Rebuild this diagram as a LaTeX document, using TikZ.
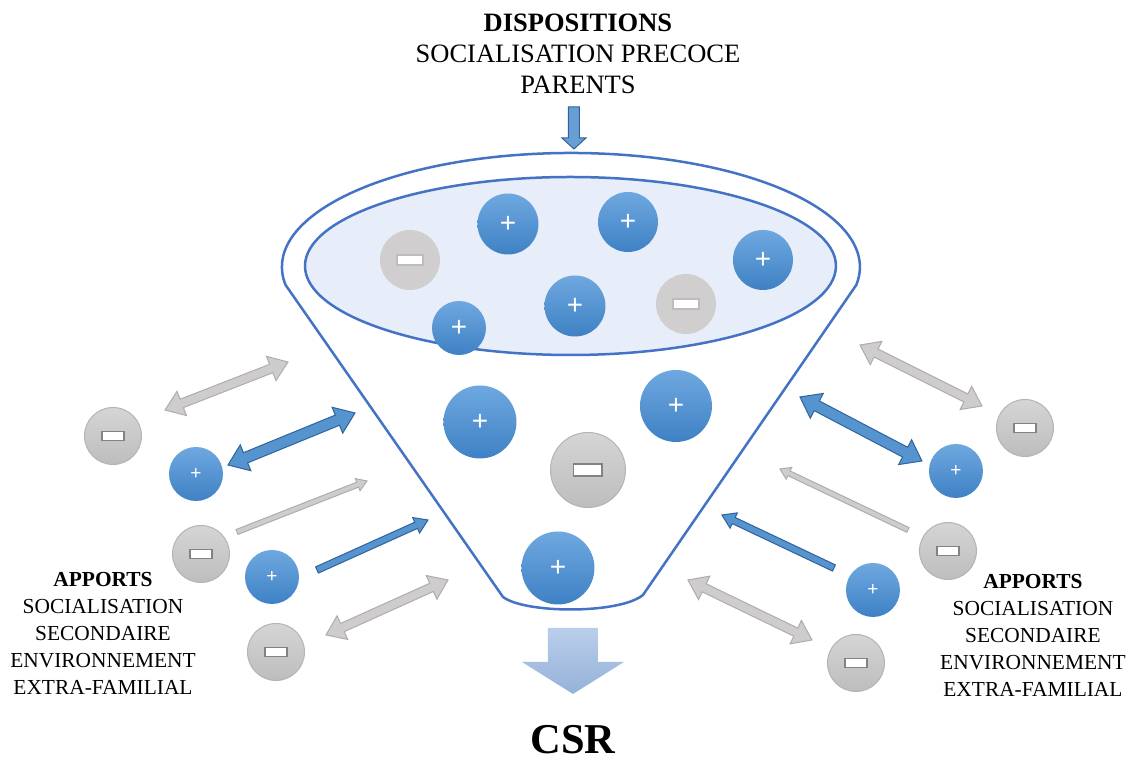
\documentclass[tikz,border=0pt]{standalone}
\usepackage{fontspec}
\setmainfont{Liberation Serif}
\newfontfamily\ballfont{Liberation Sans}
\usepackage{xcolor}
\usepackage{tikz}
\usetikzlibrary{calc}

\definecolor{funnelblue}{RGB}{68,114,196}
\definecolor{bowlfill}{RGB}{231,238,249}
\definecolor{plushi}{RGB}{111,168,224}
\definecolor{pluslo}{RGB}{62,129,196}
\definecolor{minushi}{RGB}{213,213,213}
\definecolor{minuslo}{RGB}{189,189,189}
\definecolor{minusedge}{RGB}{180,180,180}
\definecolor{minusflat}{RGB}{208,206,206}
\definecolor{bargrey}{RGB}{130,130,130}
\definecolor{greyfill}{RGB}{206,204,204}
\definecolor{greyedge}{RGB}{176,172,172}
\definecolor{bluefill}{RGB}{86,148,208}
\definecolor{blueedge}{RGB}{48,98,155}
\definecolor{csrhi}{RGB}{186,206,236}
\definecolor{csrlo}{RGB}{148,178,216}

\newcommand{\bigsign}{\ballfont\fontsize{28}{28}\selectfont}
\newcommand{\smallsign}{\ballfont\fontsize{19}{19}\selectfont}

% block arrows: style, tail, tip, half shaft, half head, head length
\newcommand{\sglarrow}[6]{%
  \coordinate (hb) at ($(#3)!#6!(#2)$);
  \draw[#1] ($(#2)!#4!90:(#3)$) -- ($(hb)!#4!-90:(#2)$) -- ($(hb)!#5!-90:(#2)$) -- (#3)
    -- ($(hb)!#5!90:(#2)$) -- ($(hb)!#4!90:(#2)$) -- ($(#2)!#4!-90:(#3)$) -- cycle;
}
\newcommand{\dblarrow}[6]{%
  \coordinate (ha) at ($(#2)!#6!(#3)$);
  \coordinate (hb) at ($(#3)!#6!(#2)$);
  \draw[#1] (#2) -- ($(ha)!#5!90:(#3)$) -- ($(ha)!#4!90:(#3)$) -- ($(hb)!#4!-90:(#2)$)
    -- ($(hb)!#5!-90:(#2)$) -- (#3) -- ($(hb)!#5!90:(#2)$) -- ($(hb)!#4!90:(#2)$)
    -- ($(ha)!#4!-90:(#3)$) -- ($(ha)!#5!-90:(#3)$) -- cycle;
}

\tikzset{
  ball/.style={circle,inner sep=0pt,minimum size=#1,text=white},
  plusball/.style={ball=#1,top color=plushi,bottom color=pluslo},
  minusbar/.style={draw=bargrey,fill=white,line width=1.5pt},
  minusball/.style={ball=#1,top color=minushi,bottom color=minuslo,draw=minusedge,line width=1pt,
    path picture={\draw[minusbar] ($(path picture bounding box.center)+(-0.19*#1,-0.08*#1)$)
      rectangle ($(path picture bounding box.center)+(0.19*#1,0.08*#1)$);}},
  flatminus/.style={ball=#1,fill=minusflat,
    path picture={\draw[minusbar,draw=minuslo,line width=2pt] ($(path picture bounding box.center)+(-0.22*#1,-0.085*#1)$)
      rectangle ($(path picture bounding box.center)+(0.22*#1,0.085*#1)$);}},
  funnel/.style={draw=funnelblue,line width=2.5pt},
  greyarrow/.style={fill=greyfill,draw=greyedge,line width=1pt},
  bluearrow/.style={fill=bluefill,draw=blueedge,line width=1pt},
  csrarrow/.style={top color=csrhi,bottom color=csrlo,draw=none},
  toptext/.style={align=center,font=\fontsize{26.5}{31}\selectfont},
  sidetext/.style={align=center,font=\fontsize{21.4}{27}\selectfont},
}

\begin{document}
\begin{tikzpicture}[x=1pt,y=-1pt]
  \path[fill=white] (0,0) rectangle (1129,760);
  % funnel
  \draw[funnel,line join=round] (285.6,285) arc[start angle=170.9,end angle=369.1,x radius=289,y radius=114]
    -- (643,595) .. controls (620,614) and (526,614) .. (503,597) -- cycle;
  \draw[funnel,fill=bowlfill] (570.5,266) ellipse[x radius=265.5,y radius=89];
  % balls in the bowl
  \node[flatminus=60] (d1) at (410,260) {};
  \node[plusball=61,font=\bigsign] (d2) at (508,224) {+};
  \node[plusball=60,font=\bigsign] (d3) at (628,222) {+};
  \node[plusball=60,font=\bigsign] (d4) at (763,260) {+};
  \node[plusball=61,font=\bigsign] (d5) at (575,306) {+};
  \node[flatminus=60] (d6) at (686,304) {};
  \node[plusball=54,font=\bigsign] (d7) at (459,328) {+};
  % balls in the funnel
  \node[plusball=73,font=\bigsign] (f1) at (480,422) {+};
  \node[plusball=72,font=\bigsign] (f2) at (676,406) {+};
  \node[minusball=75] (f3) at (588,470) {};
  \node[plusball=73,font=\bigsign] (f4) at (558,568) {+};
  % balls outside
  \node[minusball=57] (l1) at (113,436) {};
  \node[plusball=54,font=\smallsign] (l2) at (196,474) {+};
  \node[minusball=57] (l3) at (201,554) {};
  \node[plusball=54,font=\smallsign] (l4) at (272,577) {+};
  \node[minusball=57] (l5) at (276,652) {};
  \node[minusball=57] (r1) at (1025,428) {};
  \node[plusball=54,font=\smallsign] (r2) at (956,471) {+};
  \node[minusball=57] (r3) at (948,551) {};
  \node[plusball=54,font=\smallsign] (r4) at (873,590) {+};
  \node[minusball=57] (r5) at (856,663) {};
  % arrow ends
  \coordinate (la1) at (165,410);  \coordinate (lb1) at (288,362);
  \coordinate (la2) at (228,465);  \coordinate (lb2) at (355,413);
  \coordinate (la3) at (237,532);  \coordinate (lb3) at (367,481);
  \coordinate (la4) at (317,570);  \coordinate (lb4) at (428,520);
  \coordinate (la5) at (326,635);  \coordinate (lb5) at (448,580);
  \coordinate (ra1) at (982,406);  \coordinate (rb1) at (860,345);
  \coordinate (ra2) at (922,461);  \coordinate (rb2) at (800,397);
  \coordinate (ra3) at (908,530);  \coordinate (rb3) at (780,469);
  \coordinate (ra4) at (834,568);  \coordinate (rb4) at (722,515);
  \coordinate (ra5) at (812,640);  \coordinate (rb5) at (688,580);
  % arrows
  \dblarrow{greyarrow}{la1}{lb1}{4.5pt}{13pt}{18pt}
  \dblarrow{bluearrow}{la2}{lb2}{5.5pt}{14pt}{19pt}
  \sglarrow{greyarrow}{la3}{lb3}{2.6pt}{6.5pt}{10pt}
  \sglarrow{bluearrow}{la4}{lb4}{3.4pt}{8.5pt}{13pt}
  \dblarrow{greyarrow}{la5}{lb5}{4.5pt}{13pt}{18pt}
  \dblarrow{greyarrow}{ra1}{rb1}{4.5pt}{13pt}{18pt}
  \dblarrow{bluearrow}{ra2}{rb2}{5.5pt}{14pt}{19pt}
  \sglarrow{greyarrow}{ra3}{rb3}{2.6pt}{6.5pt}{10pt}
  \sglarrow{bluearrow}{ra4}{rb4}{3.4pt}{8.5pt}{13pt}
  \dblarrow{greyarrow}{ra5}{rb5}{4.5pt}{13pt}{18pt}
  % texts
  \node[toptext] (disp) at (578,54) {\textbf{DISPOSITIONS}\\SOCIALISATION PRECOCE\\PARENTS};
  \node[sidetext] (appl) at (103,633) {\textbf{APPORTS}\\SOCIALISATION\\SECONDAIRE\\ENVIRONNEMENT\\EXTRA-FAMILIAL};
  \node[sidetext] (appr) at (1033,635) {\textbf{APPORTS}\\SOCIALISATION\\SECONDAIRE\\ENVIRONNEMENT\\EXTRA-FAMILIAL};
  \node[font=\bfseries\fontsize{42.5}{42.5}\selectfont,inner sep=0pt] (csr) at (573,740) {CSR};
  % in and out
  \coordinate (dispa) at (574,107); \coordinate (dispb) at (574,149);
  \sglarrow{bluearrow,fill=bluefill!90!white}{dispa}{dispb}{5.5pt}{12pt}{11pt}
  \coordinate (csra) at (573,628); \coordinate (csrb) at (573,694);
  \sglarrow{csrarrow}{csra}{csrb}{25pt}{51pt}{32pt}
\end{tikzpicture}
\end{document}
